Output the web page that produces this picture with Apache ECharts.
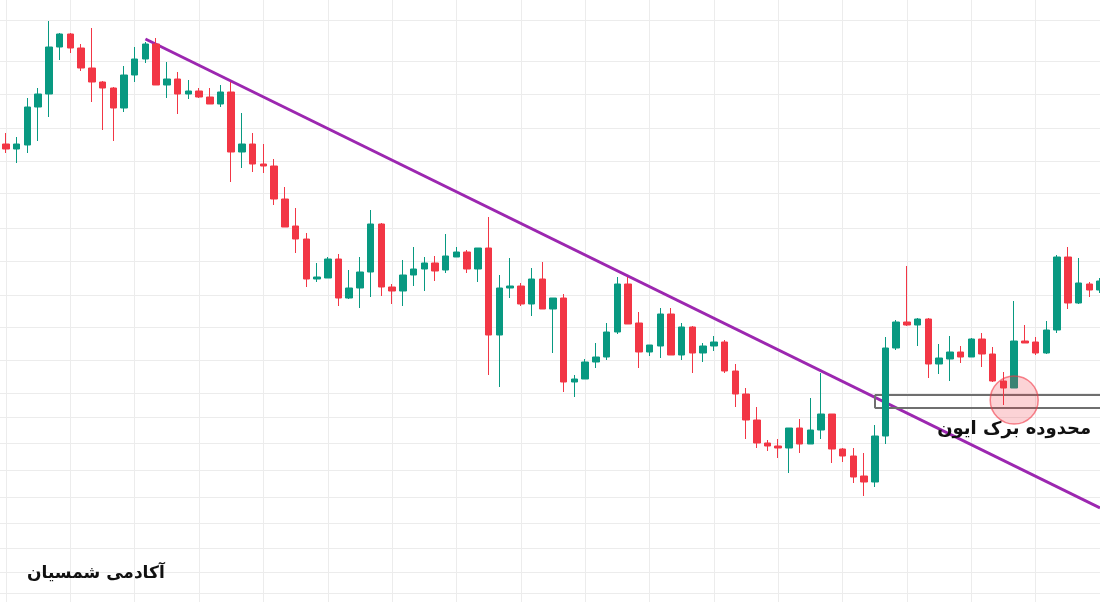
<!DOCTYPE html>
<html><head><meta charset="utf-8">
<script src="https://cdn.jsdelivr.net/npm/echarts@6/dist/echarts.min.js"></script>
<style>html,body{margin:0;padding:0;background:#fff}#c{width:1100px;height:602px}</style>
</head><body><div id="c"></div>
<script>
// Candles: [open, close, low, high]
const ohlc = [
  [556,551,547,567],[551,556,537,563],[555,593,547,602],[593,606,559,612],[606,653,583,679],
  [653,666,640,667],[666,652,647,667],[652,632,629,656],[632,618,598,672],[618,612,570,619],
  [612,592,559,613],[592,625,588,634],[625,641,618,653],[641,656,637,658],[656,615,615,662],
  [615,621,602,638],[621,606,586,628],[606,609,601,620],[609,603,602,612],[603,596,596,612],
  [596,608,593,615],[608,548,518,618],[548,556,532,587],[556,536,528,567],[536,534,527,556],
  [534,501,495,541],[501,473,473,513],[474,461,447,492],[461,421,413,467],[421,423,418,437],
  [422,441,422,443],[441,402,394,446],[402,412,401,430],[412,428,392,443],[428,476,403,490],
  [476,413,404,477],[413,409,396,416],[409,425,394,440],[425,431,414,453],[431,437,409,443],
  [437,429,419,444],[430,444,427,466],[443,448,443,453],[448,431,427,450],[431,452,418,452],
  [452,365,325,483],[365,412,313,425],[412,414,402,442],[414,396,394,417],[396,421,384,432],
  [421,391,391,438],[391,402,347,402],[402,318,308,406],[318,321,303,325],[321,338,321,341],
  [338,343,332,357],[343,368,340,377],[368,416,366,423],[416,376,376,423],[377,348,332,388],
  [348,355,344,355],[354,386,342,392],[386,345,345,392],[345,373,340,377],[373,347,327,374],
  [347,354,338,357],[354,358,349,364],[358,329,327,360],[329,306,293,336],[306,280,261,312],
  [280,257,252,293],[257,254,249,260],[254,252,242,261],[252,272,227,272],[272,256,247,281],
  [256,270,256,302],[270,286,261,327],[286,251,237,286],[251,244,238,252],[244,223,217,252],
  [224,218,204,247],[218,264,213,275],[264,352,256,363],[352,378,350,380],[378,375,374,434],
  [375,381,354,382],[381,336,322,382],[336,342,326,356],[341,348,319,364],[348,343,337,354],
  [343,361,343,362],[361,346,333,367],[346,319,318,353],[319,312,295,328],[312,359,312,399],
  [359,357,357,375],[358,347,345,363],[347,370,346,379],[370,443,367,445],[443,397,391,453],
  [397,417,396,442],[416,410,403,418],[410,419,407,422]
];
const categories = ohlc.map((_, i) => 'C' + (i + 1));
// horizontal price grid levels
const gridLevels = [680,639,606,572,539,507,472,439,405,373,340,307,283,257,230,203,177,152,128,107];
const priceMin = 98, priceMax = 700;
// annotations (category index, price)
const trendLine = [[13, 661], [102, 192]];
const breakZone = { from: 81, to: 102, top: 305, bottom: 292 };
const retestPoint = [94, 300];
const zoneLabelPoint = [94, 271];
const zoneLabel = 'محدوده برک ایون';
const watermark = 'آکادمی شمسیان';

const UP = '#089981', DOWN = '#f23645';
const chart = echarts.init(document.getElementById('c'), null, {renderer: 'canvas'});
const zoneStyle = {color: '#6f6f6f', width: 2, type: 'solid'};
chart.setOption({
  animation: false,
  backgroundColor: '#ffffff',
  grid: [
    {left: 6, right: 0, top: 0, bottom: 0},
    {left: 0, right: 0, top: 0, bottom: 0}
  ],
  xAxis: [
    {type: 'category', data: categories, boundaryGap: false, gridIndex: 0,
     axisLine: {show: false}, axisTick: {show: false}, axisLabel: {show: false},
     splitLine: {show: true, interval: 5, lineStyle: {color: '#ececec', width: 1}}},
    {type: 'value', gridIndex: 1, min: 0, max: 1, show: false, splitLine: {show: false}}
  ],
  yAxis: [
    {type: 'value', gridIndex: 0, min: priceMin, max: priceMax, show: false, splitLine: {show: false}},
    {type: 'value', gridIndex: 1, min: priceMin, max: priceMax, show: false, splitLine: {show: false}}
  ],
  graphic: [{
    type: 'text', left: 27, top: 565, z: 10,
    style: {text: watermark, font: 'bold 17px "DejaVu Sans"', fill: '#111111'}
  }],
  series: [
    {type: 'line', xAxisIndex: 1, yAxisIndex: 1, data: [[0, priceMin]], showSymbol: false,
     lineStyle: {opacity: 0}, silent: true, z: 0,
     markLine: {silent: true, symbol: 'none', z: 0, label: {show: false},
       lineStyle: {color: '#ececec', width: 1, type: 'solid'},
       data: gridLevels.map(v => ({yAxis: v}))}},
    {type: 'line', xAxisIndex: 0, yAxisIndex: 0, data: [], showSymbol: false, silent: true, z: 1,
     markLine: {silent: true, symbol: 'none', z: 1, label: {show: false},
       data: [
         [{coord: trendLine[0], lineStyle: {color: '#9c27b0', width: 3, type: 'solid'}}, {coord: trendLine[1]}],
         [{coord: [breakZone.from, breakZone.top], lineStyle: zoneStyle}, {coord: [breakZone.to, breakZone.top]}],
         [{coord: [breakZone.from, breakZone.bottom], lineStyle: zoneStyle}, {coord: [breakZone.to, breakZone.bottom]}],
         [{coord: [breakZone.from, breakZone.top], lineStyle: zoneStyle}, {coord: [breakZone.from, breakZone.bottom]}]
       ]}},
    {type: 'candlestick', xAxisIndex: 0, yAxisIndex: 0, data: ohlc, clip: false, z: 3,
     barWidth: 7,
     itemStyle: {color: UP, color0: DOWN, borderColor: UP, borderColor0: DOWN, borderWidth: 1}},
    {type: 'scatter', xAxisIndex: 0, yAxisIndex: 0, data: [retestPoint], symbol: 'circle', symbolSize: 48,
     z: 4, silent: true,
     itemStyle: {opacity: 1, color: 'rgba(242,54,69,0.22)', borderColor: 'rgba(242,54,69,0.6)', borderWidth: 1.5}},
    {type: 'scatter', xAxisIndex: 0, yAxisIndex: 0, data: [zoneLabelPoint], symbolSize: 0, z: 5, silent: true,
     itemStyle: {opacity: 1},
     label: {show: true, position: 'inside', formatter: zoneLabel, color: '#111111', opacity: 1,
       fontFamily: 'DejaVu Sans', fontWeight: 'bold', fontSize: 18}}
  ]
});
</script></body></html>
